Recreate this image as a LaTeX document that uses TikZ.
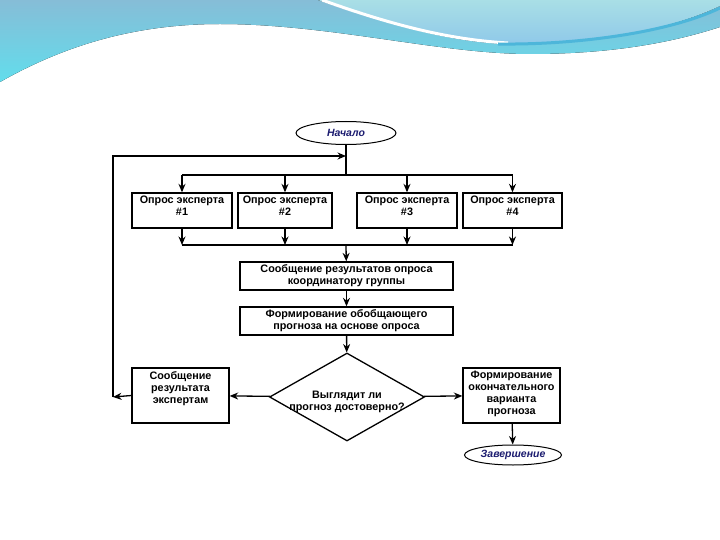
\documentclass[tikz,border=0pt]{standalone}
\usepackage{fontspec}
\setmainfont{Liberation Sans}
\usepackage{tikz}
\usetikzlibrary{arrows.meta,shapes.geometric,calc}

\definecolor{wavetop}{HTML}{86BDD7}
\definecolor{wavelow}{HTML}{62DDEC}
\definecolor{bubtop}{HTML}{A9DFE6}
\definecolor{bubbot}{HTML}{8FC9E9}
\definecolor{arcblue}{HTML}{4DB6DA}
\definecolor{termtext}{HTML}{1C1C70}

\begin{document}
\begin{tikzpicture}[
  x=1pt, y=-1pt,
  font=\fontsize{10.8}{12}\selectfont\bfseries,
  >={Stealth[length=8.5pt,width=7pt]},
  line width=1.3pt,
  box/.style={draw, rectangle, align=center, inner sep=1pt, fill=white},
  lbl/.style={align=center, inner sep=0.5pt},
  term/.style={draw, ellipse, inner sep=0pt, fill=white, line width=1pt, font=\fontsize{10.5}{12}\selectfont\bfseries\itshape, text=termtext},
  decide/.style={draw, diamond, aspect=1.76, inner sep=0pt, fill=white},
]
% background: slide frame and top wave
\useasboundingbox (0,0) rectangle (720,540);
\fill[white] (0,0) rectangle (720,540);
\fill[top color=wavetop, bottom color=wavelow] (0,0) -- (0,82)
  .. controls (60,48) and (130,24) .. (220,24)
  .. controls (330,24) and (440,54) .. (530,54)
  .. controls (620,54) and (680,40) .. (720,27) -- (720,0) -- cycle;
\fill[top color=bubtop, bottom color=bubbot] (318,0)
  .. controls (400,28) and (460,44) .. (515,44)
  .. controls (610,44) and (680,25) .. (720,6) -- (720,0) -- cycle;
\draw[white, line width=3pt] (322,0) .. controls (400,28) and (455,40) .. (508,43);
\draw[arcblue, line width=3pt] (498,44) .. controls (580,45) and (670,32) .. (720,8);
% terminals
\node[term, minimum width=100, minimum height=23] (start) at (346,133) {Начало};
\node[term, minimum width=97, minimum height=20] (stop) at (513,455) {Завершение};
% expert boxes, text near the top
\foreach \n/\x/\w in {1/182/100, 2/285/94, 3/407/100, 4/512.5/99}{
  \node[box, minimum width=\w, minimum height=35] (e\n) at (\x,210.5) {};
  \node[lbl, anchor=north] (e\n t) at ([yshift=-2pt]e\n.north) {Опрос эксперта\\\#\n};
}
% central column
\node[box, minimum width=213, minimum height=28] (rep) at (346.5,276) {Сообщение результатов опроса\\координатору группы};
\node[box, minimum width=213, minimum height=28] (gen) at (346.5,321) {Формирование обобщающего\\прогноза на основе опроса};
\node[decide, minimum width=155, minimum height=88] (dec) at (347,397) {};
\node[lbl] (dect) at ([yshift=-5pt]dec.center) {Выглядит ли\\прогноз достоверно?};
% side boxes
\node[box, minimum width=97, minimum height=55] (back) at (180.5,395.5) {};
\node[lbl, anchor=north] (backt) at ([yshift=-3pt]back.north) {Сообщение\\результата\\экспертам};
\node[box, minimum width=97, minimum height=55] (fin) at (511.5,395.5) {};
\node[lbl, anchor=north] (fint) at ([yshift=-3pt]fin.north) {Формирование\\окончательного\\варианта\\прогноза};
% bus points
\coordinate (bt) at (start.south |- 0,175);
\coordinate (bb) at (start.south |- 0,245);
\coordinate (lp) at (start.south |- 0,156);
\coordinate (ll) at (113,156);
\coordinate (lb) at (113,397);
% fan-out to experts
\draw (start) -- (bt);
\draw (e1.north |- bt) -- (e4.north |- bt);
\foreach \n in {1,...,4}{\draw[->] (e\n.north |- bt) -- (e\n.north);}
% fan-in from experts
\draw (e1.south |- bb) -- (e4.south |- bb);
\foreach \n in {1,...,4}{\draw[->] (e\n.south) -- (e\n.south |- bb);}
\draw[->] (bb) -- (rep);
\draw[->] (rep) -- (gen);
\draw[->] (gen) -- (dec);
% branches
\draw[->] (dec) -- (back);
\draw[->] (dec) -- (fin);
\draw[->] (fin) -- (stop);
% loop back to the start
\draw[->] (back.west) -- (lb);
\draw[->] (lb) -- (ll) -- (lp);
\end{tikzpicture}
\end{document}
